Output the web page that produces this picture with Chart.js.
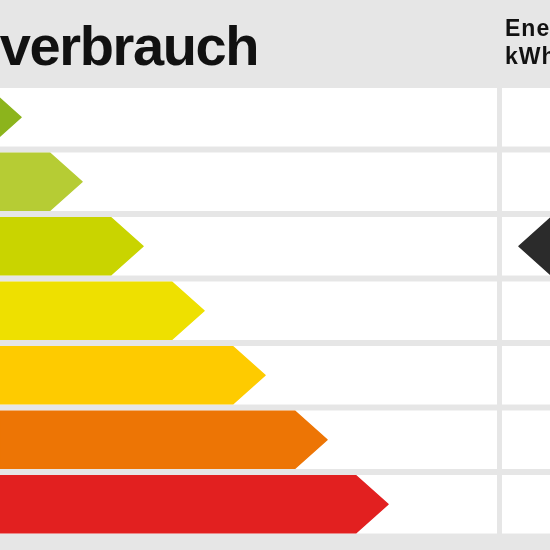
<!DOCTYPE html>
<html>
<head>
<meta charset="utf-8">
<script src="https://cdn.jsdelivr.net/npm/chart.js@4.4.1/dist/chart.umd.min.js"></script>
<style>
	html, body { margin: 0; padding: 0; background: #e6e6e6; }
	#wrap { width: 550px; height: 550px; position: relative; }
</style>
</head>
<body>
<div id="wrap"><canvas id="myChart"></canvas></div>
<script>
var classes = ["A", "B", "C", "D", "E", "F", "G"];
var arrowLengths = [21, 82, 143, 204, 265, 327, 388];
var classColors = ["#8cb41c", "#b6cc34", "#c9d400", "#eee000", "#fecb00", "#ed7505", "#e22020"];
var ratedClass = "C";
var titleText = "Energieverbrauch";
var sideTitle = ["Energiebedarf", "kWh/(m²·a)"];

var grey = "#e6e6e6";

// arrow outline: body up to (tip - head), then a point
function arrowPath(ctx, left, tip, cy, h, dir) {
	var head = h * 0.56;
	ctx.beginPath();
	if (dir > 0) {
		var start = Math.min(left, tip - head);
		ctx.moveTo(start, cy - h / 2);
		ctx.lineTo(tip - head, cy - h / 2);
		ctx.lineTo(tip, cy);
		ctx.lineTo(tip - head, cy + h / 2);
		ctx.lineTo(start, cy + h / 2);
	} else {
		ctx.moveTo(left + 40, cy - h / 2);
		ctx.lineTo(tip + head, cy - h / 2);
		ctx.lineTo(tip, cy);
		ctx.lineTo(tip + head, cy + h / 2);
		ctx.lineTo(left + 40, cy + h / 2);
	}
	ctx.closePath();
}

var labelPlugin = {
	id: "label",
	beforeDraw: function(chart) {
		var ctx = chart.ctx, area = chart.chartArea, y = chart.scales.y;
		var slot = (area.bottom - area.top) / classes.length;
		ctx.save();
		ctx.fillStyle = grey;
		ctx.fillRect(0, 0, chart.width, chart.height);
		ctx.fillStyle = "#ffffff";
		classes.forEach(function(c, i) {
			var cy = y.getPixelForValue(i);
			var h = slot - 6;
			ctx.fillRect(0, cy - h / 2, area.right, h);
			ctx.fillRect(area.right + 5, cy - h / 2, chart.width - area.right - 5, h);
		});

		ctx.fillStyle = "#111111";
		ctx.textBaseline = "alphabetic";
		ctx.font = "bold 56px 'Liberation Sans', Arial, sans-serif";
		ctx.letterSpacing = "-1.4px";
		ctx.textAlign = "right";
		ctx.fillText(titleText, 258, 65);

		ctx.font = "bold 23px 'Liberation Sans', Arial, sans-serif";
		ctx.letterSpacing = "1px";
		ctx.textAlign = "left";
		ctx.fillText(sideTitle[0], area.right + 8, 36);
		ctx.fillText(sideTitle[1], area.right + 8, 64);
		ctx.restore();
	},
	beforeDatasetsDraw: function(chart) {
		var ctx = chart.ctx, area = chart.chartArea;
		var meta = chart.getDatasetMeta(0);
		ctx.save();
		ctx.lineJoin = "round";
		ctx.lineWidth = 1.5;
		meta.data.forEach(function(bar, i) {
			var p = bar.getProps(["x", "y", "base", "height"], true);
			arrowPath(ctx, p.base, p.x, p.y, p.height, 1);
			ctx.fillStyle = classColors[i];
			ctx.strokeStyle = classColors[i];
			ctx.fill();
			ctx.stroke();
		});

		// black marker in the right column
		var k = classes.indexOf(ratedClass);
		var m = meta.data[k].getProps(["y", "height"], true);
		arrowPath(ctx, chart.width, area.right + 22, m.y, m.height, -1);
		ctx.fillStyle = "#2b2b2b";
		ctx.strokeStyle = "#2b2b2b";
		ctx.fill();
		ctx.stroke();
		ctx.restore();
		return false;
	}
};

new Chart("myChart", {
	type: "bar",
	data: {
		labels: classes,
		datasets: [{
			data: arrowLengths,
			backgroundColor: classColors,
			barPercentage: 0.885,
			categoryPercentage: 1
		}]
	},
	options: {
		indexAxis: "y",
		responsive: true,
		maintainAspectRatio: false,
		animation: false,
		devicePixelRatio: 1,
		layout: { padding: { top: 85, bottom: 13.5, left: 0, right: 53 } },
		scales: {
			x: { display: false, min: 0, max: 497 },
			y: { display: false }
		},
		plugins: {
			legend: { display: false },
			tooltip: { enabled: false }
		}
	},
	plugins: [labelPlugin]
});
</script>
</body>
</html>
